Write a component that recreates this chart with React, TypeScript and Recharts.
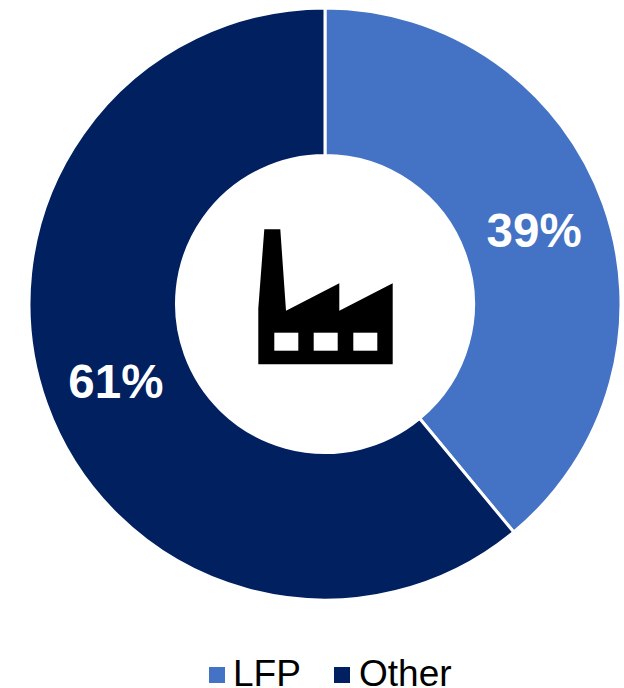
import { PieChart, Pie, Cell, Legend } from 'recharts'

const NAMES = ['LFP', 'Other']
const VALUES = [39, 61]
const COLORS = ['#4472C4', '#002060']

const FONT = '"Liberation Sans", Arial, sans-serif'
const RADIAN = Math.PI / 180

const data = NAMES.map((name, i) => ({ name, value: VALUES[i] }))

function renderLabel({ cx, cy, midAngle, innerRadius, outerRadius, value }: any) {
  const r = (innerRadius + outerRadius) / 2
  const x = cx + r * Math.cos(-midAngle * RADIAN)
  const y = cy + r * Math.sin(-midAngle * RADIAN) + 2
  return (
    <text
      x={x}
      y={y}
      fill="#fff"
      textAnchor="middle"
      dominantBaseline="central"
      style={{ fontFamily: FONT, fontSize: 47.5, fontWeight: 700 }}
    >
      {`${value}%`}
    </text>
  )
}

function LegendRow({ payload }: any) {
  return (
    <div style={{ position: 'relative', height: 48, fontFamily: FONT, fontSize: 37, lineHeight: '28px', color: '#000' }}>
      {(payload ?? []).map((entry: any, i: number) => (
        <div key={entry.value} style={{ position: 'absolute', left: i === 0 ? 209 : 334, top: 0, whiteSpace: 'nowrap' }}>
          <div style={{ position: 'absolute', left: 0, top: 27, width: 16, height: 16, background: entry.color }} />
          <div style={{ position: 'absolute', left: i === 0 ? 24 : 25, top: 20, height: 28 }}>{entry.value}</div>
        </div>
      ))}
    </div>
  )
}

function FactoryIcon() {
  return (
    <svg width={624} height={688} style={{ position: 'absolute', left: 0, top: 0, pointerEvents: 'none' }}>
      <path
        fill="#000"
        d="M264.3 229.3H280.3L286 310.7L339.3 283.3V310.7L392.7 283.3V364.3H258.3V308.3Z"
      />
      <rect x={274.3} y={332.7} width={24} height={18} fill="#fff" />
      <rect x={313.7} y={332.7} width={24} height={18} fill="#fff" />
      <rect x={353.3} y={332.7} width={24} height={18} fill="#fff" />
    </svg>
  )
}

export default function App() {
  return (
    <div style={{ position: 'absolute', left: 0, top: 0, width: 624, height: 688, background: '#fff', overflow: 'hidden' }}>
      <PieChart width={624} height={688} margin={{ top: 0, right: 0, bottom: 0, left: 0 }}>
        <Pie
          data={data}
          dataKey="value"
          nameKey="name"
          cx={325}
          cy={304}
          innerRadius={148.5}
          outerRadius={296}
          startAngle={90}
          endAngle={-270}
          stroke="#fff"
          strokeWidth={3}
          label={renderLabel}
          labelLine={false}
          isAnimationActive={false}
        >
          {NAMES.map((name, i) => (
            <Cell key={name} fill={COLORS[i]} />
          ))}
        </Pie>
        <Legend
          content={LegendRow}
          wrapperStyle={{ position: 'absolute', left: 0, top: 640, width: 624 }}
        />
      </PieChart>
      <FactoryIcon />
    </div>
  )
}
